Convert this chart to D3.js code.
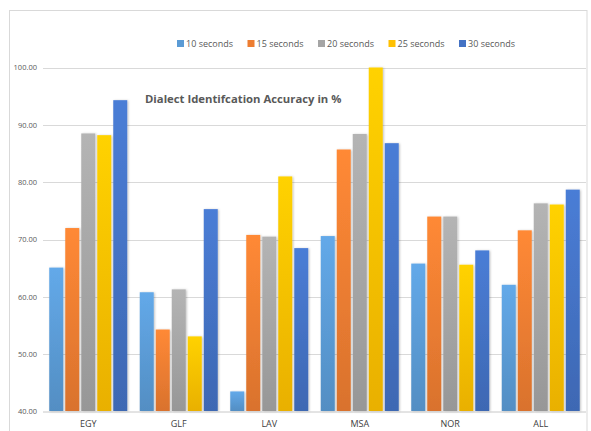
<!DOCTYPE html>
<html><head><meta charset="utf-8">
<script src="https://cdn.jsdelivr.net/npm/d3@7"></script>
<style>html,body{margin:0;padding:0;background:#fff;}svg{display:block;}</style>
</head><body>
<svg id="c" width="591" height="431"></svg>
<script>
const categories = ["EGY","GLF","LAV","MSA","NOR","ALL"];
const seriesNames = ["10 seconds","15 seconds","20 seconds","25 seconds","30 seconds"];
const s10 = [65.1, 60.8, 43.5, 70.6, 65.8, 62.1];
const s15 = [72.0, 54.3, 70.8, 85.7, 74.0, 71.6];
const s20 = [88.5, 61.3, 70.5, 88.4, 74.0, 76.3];
const s25 = [88.2, 53.1, 81.0, 100.0, 65.6, 76.1];
const s30 = [94.3, 75.3, 68.5, 86.8, 68.1, 78.7];
const seriesValues = [s10, s15, s20, s25, s30];
const yTicks = [40, 50, 60, 70, 80, 90, 100];
const colors = ["#5B9BD5","#ED7D31","#A5A5A5","#FFC000","#4472C4"];
const title = "Dialect Identifcation Accuracy in %";

const svg = d3.select("#c");
const defs = svg.append("defs");
colors.forEach((c,i)=>{
  const g = defs.append("linearGradient").attr("id","g"+i).attr("x1",0).attr("y1",0).attr("x2",0).attr("y2",1);
  g.append("stop").attr("offset","0%").attr("stop-color", d3.color(c).brighter(0.25));
  g.append("stop").attr("offset","100%").attr("stop-color", d3.color(c).darker(0.25));
});
const f = defs.append("filter").attr("id","sh").attr("x","-20%").attr("y","-5%").attr("width","150%").attr("height","115%");
f.append("feDropShadow").attr("dx",1).attr("dy",0.5).attr("stdDeviation",0.8).attr("flood-color","#000").attr("flood-opacity",0.25);

// frame
svg.append("rect").attr("x",9.5).attr("y",10.5).attr("width",577.5).attr("height",440)
  .attr("fill","none").attr("stroke","#d9d9d9").attr("stroke-width",1);

const x0 = d3.scaleBand().domain(categories).range([43,586]).paddingInner(0.138).paddingOuter(0.069);
const x1 = d3.scaleBand().domain(d3.range(seriesNames.length)).range([0,x0.bandwidth()]).paddingInner(0.125);
const y = d3.scaleLinear().domain([40,100]).range([411.5,67.5]);

// grid
svg.append("g").selectAll("line").data(yTicks.slice(1)).join("line")
  .attr("x1",43).attr("x2",586).attr("y1",d=>Math.round(y(d))+0.5).attr("y2",d=>Math.round(y(d))+0.5)
  .attr("stroke","#d9d9d9").attr("stroke-width",1);

// y axis labels
const yAxis = d3.axisLeft(y).tickValues(yTicks).tickFormat(d3.format(".2f")).tickSize(0).tickPadding(6);
const ya = svg.append("g").attr("transform","translate(43,0)").call(yAxis);
ya.select(".domain").remove();
ya.selectAll("text").attr("fill","#595959").attr("font-family","'Open Sans',sans-serif").attr("font-size",7.5);

// bars
const groups = svg.append("g").selectAll("g").data(categories).join("g")
  .attr("transform",d=>`translate(${x0(d)},0)`);
groups.selectAll("rect").data((d,ci)=>seriesValues.map((s,si)=>({si, v:s[ci]}))).join("rect")
  .attr("x",d=>x1(d.si)).attr("width",x1.bandwidth())
  .attr("y",d=>y(d.v)).attr("height",d=>y(40)-y(d.v)-0.5)
  .attr("fill",d=>`url(#g${d.si})`).attr("filter","url(#sh)");

// x axis
const xAxis = d3.axisBottom(x0).tickSize(0).tickPadding(9);
const xa = svg.append("g").attr("transform","translate(0,411.5)").call(xAxis);
xa.select(".domain").attr("stroke","#c8c8c8").attr("d","M43,0.5H586");
xa.selectAll("text").attr("fill","#404040").attr("font-family","'Open Sans',sans-serif").attr("font-size",9);

// title
svg.append("text").attr("x",145).attr("y",103).text(title)
  .attr("fill","#595959").attr("font-family","'Open Sans',sans-serif").attr("font-weight","bold").attr("font-size",11.3);

// legend
const legX = d3.scalePoint().domain(seriesNames).range([177,459]);
const lg = svg.append("g").selectAll("g").data(seriesNames).join("g")
  .attr("transform",d=>`translate(${legX(d)},40)`);
lg.append("rect").attr("width",7).attr("height",7).attr("fill",(d,i)=>colors[i]);
lg.append("text").attr("x",9).attr("y",7).text(d=>d)
  .attr("fill","#595959").attr("font-family","'Open Sans',sans-serif").attr("font-size",9);
</script>
</body></html>
